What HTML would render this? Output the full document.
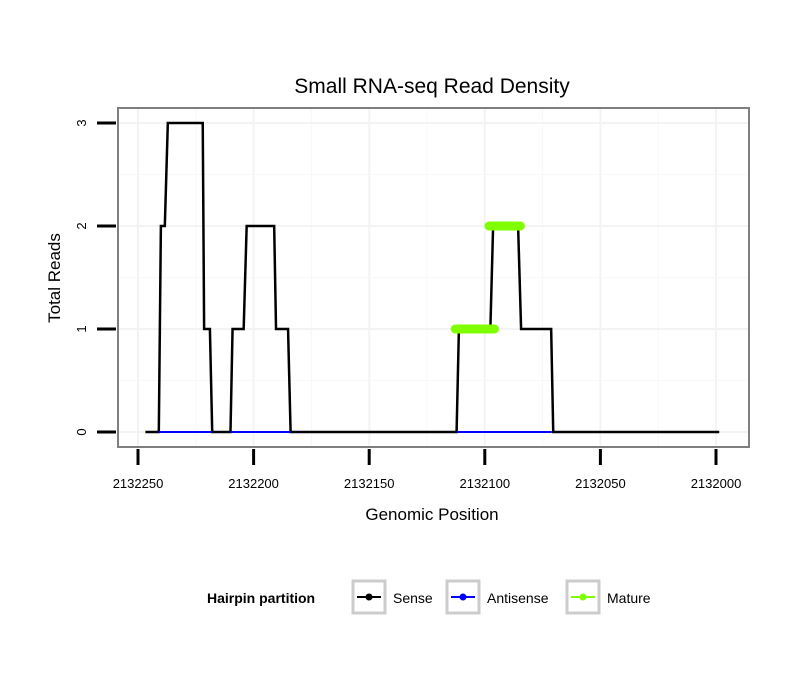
<!DOCTYPE html>
<html><head><meta charset="utf-8"><style>
body{margin:0;background:#fff;font-family:"Liberation Sans",sans-serif;}
</style></head><body>
<svg width="810" height="690" xmlns="http://www.w3.org/2000/svg" font-family="Liberation Sans, sans-serif">
<text x="432" y="93" font-size="21" text-anchor="middle">Small RNA-seq Read Density</text>
<rect x="118" y="108" width="631" height="339" fill="#fff" stroke="#7f7f7f" stroke-width="2"/>
<g id="grid"></g>
<g id="series"></g>
<g id="axes"></g>
<text x="432" y="520" font-size="17" text-anchor="middle">Genomic Position</text>
<text transform="translate(60,278) rotate(-90)" font-size="17" text-anchor="middle">Total Reads</text>
<g>
<text x="207" y="603" font-size="14" font-weight="bold">Hairpin partition</text>
<g>
<rect x="353" y="581" width="32" height="32" fill="#fff" stroke="#ccc" stroke-width="3"/>
<line x1="357" y1="597" x2="381" y2="597" stroke="#000" stroke-width="2"/><circle cx="369" cy="597" r="3.5" fill="#000"/>
<text x="393" y="603" font-size="14">Sense</text></g>
<g>
<rect x="447" y="581" width="32" height="32" fill="#fff" stroke="#ccc" stroke-width="3"/>
<line x1="451" y1="597" x2="475" y2="597" stroke="#00f" stroke-width="2"/><circle cx="463" cy="597" r="3.5" fill="#00f"/>
<text x="487" y="603" font-size="14">Antisense</text></g>
<g>
<rect x="567" y="581" width="32" height="32" fill="#fff" stroke="#ccc" stroke-width="3"/>
<line x1="571" y1="597" x2="595" y2="597" stroke="#7fff00" stroke-width="2"/><circle cx="583" cy="597" r="3.5" fill="#7fff00"/>
<text x="607" y="603" font-size="14">Mature</text></g>
</g>
</svg>
<script>
const xTicks=[2132250,2132200,2132150,2132100,2132050,2132000];
const yTicks=[0,1,2,3];
const sensePos=[2132246.8,2132241,2132240.1,2132238.4,2132237.1,2132222,2132221.4,2132218.9,2132217.9,2132210,2132209.1,2132204.3,2132203,2132191.1,2132190.3,2132185.1,2132184,2132112.2,2132111.2,2132097.6,2132096.4,2132085.6,2132084.3,2132071.3,2132070.4,2131998.6];
const senseVal=[0,0,2,2,3,3,1,1,0,0,1,1,2,2,1,1,0,0,1,1,2,2,1,1,0,0];
const antiStart=[2132241,2132210,2132112];
const antiEnd=[2132218,2132184,2132071];
const matStart=[2132112.8,2132098.2];
const matEnd=[2132095.8,2132084.6];
const matVal=[1,2];
const NS="http://www.w3.org/2000/svg";
const X=v=>138+(2132250-v)*2.312;
const Y=v=>432-v*103;
function mk(t,a,p){const e=document.createElementNS(NS,t);for(const k in a)e.setAttribute(k,a[k]);p.appendChild(e);return e;}
const grid=document.getElementById('grid'),ser=document.getElementById('series'),ax=document.getElementById('axes');
for(let i=0;i<xTicks.length;i++){const x=X(xTicks[i]);
const g=mk('line',{x1:x,x2:x,y1:109,y2:446,stroke:'#f3f3f3','stroke-width':2},grid);

if(i<xTicks.length-1){const m=X((xTicks[i]+xTicks[i+1])/2);const g2=mk('line',{x1:m,x2:m,y1:109,y2:446,stroke:'#f8f8f8','stroke-width':1},grid);
}
const t=mk('line',{x1:x,x2:x,y1:449,y2:465,stroke:'#000','stroke-width':3},ax);

const l=mk('text',{x:x,y:488,'font-size':13,'text-anchor':'middle'},ax);l.textContent=xTicks[i];
}
for(let i=0;i<yTicks.length;i++){const y=Y(yTicks[i]);
const g=mk('line',{x1:119,x2:748,y1:y,y2:y,stroke:'#f3f3f3','stroke-width':2},grid);

if(i<yTicks.length-1){const m=Y(yTicks[i]+0.5);const g2=mk('line',{x1:119,x2:748,y1:m,y2:m,stroke:'#f8f8f8','stroke-width':1},grid);
}
const t=mk('line',{x1:97,x2:116,y1:y,y2:y,stroke:'#000','stroke-width':3},ax);

const l=mk('text',{transform:`translate(86,${y}) rotate(-90)`,'font-size':13,'text-anchor':'middle'},ax);l.textContent=yTicks[i];
}
const pts=sensePos.map((p,i)=>X(p)+','+Y(senseVal[i])).join(' ');
const sl=mk('polyline',{points:pts,fill:'none',stroke:'#000','stroke-width':2.5},ser);

for(let i=0;i<antiStart.length;i++){const a=mk('line',{x1:X(antiStart[i]),x2:X(antiEnd[i]),y1:Y(0),y2:Y(0),stroke:'#00f','stroke-width':2},ser);
}
for(let i=0;i<matStart.length;i++){const m=mk('line',{x1:X(matStart[i]),x2:X(matEnd[i]),y1:Y(matVal[i]),y2:Y(matVal[i]),stroke:'#7fff00','stroke-width':9,'stroke-linecap':'round'},ser);
}
</script>
</body></html>
